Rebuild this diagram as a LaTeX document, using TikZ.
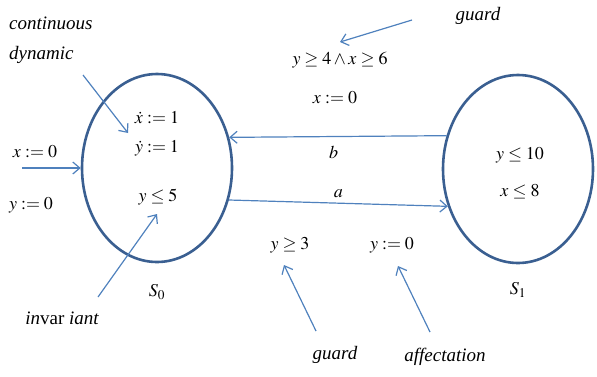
\documentclass[tikz,border=0pt]{standalone}
\usepackage{mathptmx}
\usepackage{fontspec}
\setmainfont{Liberation Serif}
\usetikzlibrary{arrows.meta,shapes.geometric}
\definecolor{statecol}{RGB}{58,95,145}
\definecolor{arrowcol}{RGB}{79,129,189}
\tikzset{
  state/.style={draw=statecol, line width=2.6pt, ellipse, minimum width=150pt, minimum height=188pt},
  lbl/.style={inner sep=1pt, font=\fontsize{18}{21}\selectfont},
  note/.style={lbl, font=\fontsize{19}{22}\selectfont\itshape},
  link/.style={draw=arrowcol, line width=1.2pt, -{Straight Barb[length=7pt, width=12pt]}},
}
\begin{document}
\begin{tikzpicture}[x=1pt, y=-1pt]
  \useasboundingbox (0,0) rectangle (597,376);
  % states
  \node[state] (s0) at (157,168) {};
  \node[state] (s1) at (518,169) {};
  \node[lbl] (s0name) at (157,292) {$S_0$};
  \node[lbl] (s1name) at (518,290) {$S_1$};
  % contents of the states
  \node[lbl] (flowx) at (157,118) {$\dot{x} := 1$};
  \node[lbl] (flowy) at (157,148) {$\dot{y} := 1$};
  \node[lbl] (inv0) at (158,197) {$y \leq 5$};
  \node[lbl] (inv1y) at (520,155) {$y \leq 10$};
  \node[lbl] (inv1x) at (520,192) {$x \leq 8$};
  % initialisation
  \node[lbl] (initx) at (35,152) {$x := 0$};
  \node[lbl] (inity) at (31,205) {$y := 0$};
  \coordinate (init) at (22,168);
  \draw[link] (init) -- (s0.west);
  % transitions
  \draw[link] (s1.155) -- node[lbl, pos=0.52, below=8pt] {$b$} (s0.23);
  \draw[link] (s0.-24) -- node[lbl, pos=0.5, above=4pt] {$a$} (s1.-152);
  \node[lbl] (guardb) at (340,60) {$y \geq 4 \wedge x \geq 6$};
  \node[lbl] (resetb) at (335,98) {$x := 0$};
  \node[lbl] (guarda) at (290,245) {$y \geq 3$};
  \node[lbl] (reseta) at (392,245) {$y := 0$};
  % notes
  \node[note, anchor=west] (dyn1) at (8,23) {continuous};
  \node[note, anchor=west] (dyn2) at (8,55) {dynamic};
  \node[note] (noteinv) at (62,318) {in{\upshape var} iant};
  \node[note] (noteguardb) at (478,16) {guard};
  \node[note] (noteguarda) at (335,355) {guard};
  \node[note] (noteaff) at (445,357) {affectation};
  \coordinate (c1) at (83,75);
  \coordinate (c2) at (128,133);
  \coordinate (c3) at (98,297);
  \coordinate (c4) at (157,214);
  \coordinate (c5) at (412,20);
  \coordinate (c6) at (340,42);
  \coordinate (c7) at (316,331);
  \coordinate (c8) at (284,265);
  \coordinate (c9) at (430,332);
  \coordinate (c10) at (398,266);
  \draw[link] (c1) -- (c2);
  \draw[link] (c3) -- (c4);
  \draw[link] (c5) -- (c6);
  \draw[link] (c7) -- (c8);
  \draw[link] (c9) -- (c10);
\end{tikzpicture}
\end{document}
